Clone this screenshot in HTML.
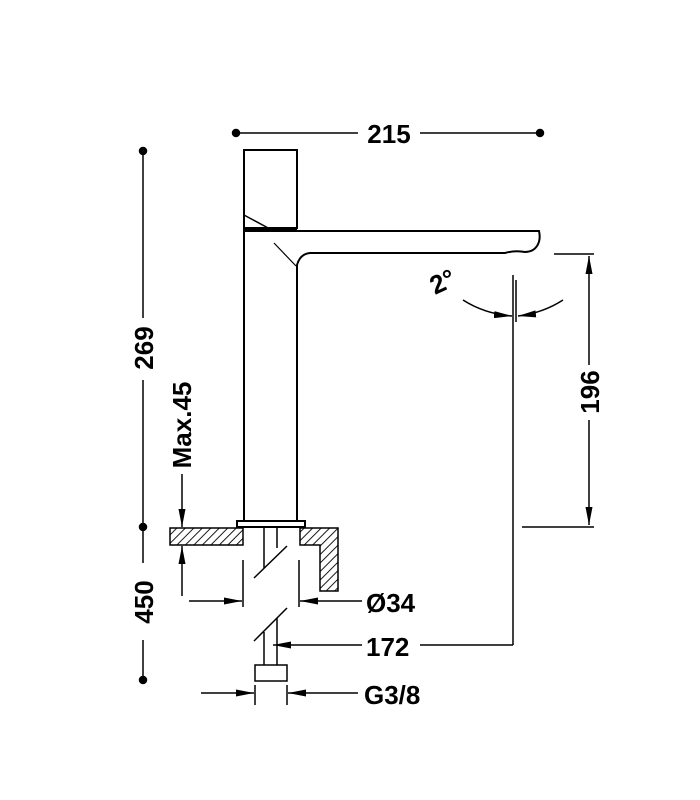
<!DOCTYPE html>
<html><head><style>body{margin:0;background:#fff}svg{display:block}</style></head><body>
<svg width="700" height="800" viewBox="0 0 700 800" xmlns="http://www.w3.org/2000/svg">
<defs>
<pattern id="h" width="6" height="6" patternUnits="userSpaceOnUse" patternTransform="rotate(45)"><rect width="6" height="6" fill="#fff"/><line x1="0" y1="0" x2="0" y2="6" stroke="#000" stroke-width="1.8"/></pattern>
<marker id="a" viewBox="0 0 10 6" refX="10" refY="3" markerWidth="18" markerHeight="7" markerUnits="userSpaceOnUse" preserveAspectRatio="none" orient="auto"><path d="M0,0L10,3L0,6z" fill="#000"/></marker>
</defs>
<g stroke="#000" fill="none" stroke-width="1.5" font-family="Liberation Sans, sans-serif">
<line x1="236" y1="133" x2="358" y2="133"/><line x1="420" y1="133" x2="540" y2="133"/>
<circle cx="236" cy="133" r="3.5" fill="#000"/><circle cx="540" cy="133" r="3.5" fill="#000"/>
<line x1="143" y1="151" x2="143" y2="318"/><line x1="143" y1="380" x2="143" y2="527"/>
<line x1="143" y1="527" x2="143" y2="563"/><line x1="143" y1="640" x2="143" y2="680"/>
<circle cx="143" cy="151" r="3.5" fill="#000"/><circle cx="143" cy="527" r="3.5" fill="#000"/><circle cx="143" cy="680" r="3.5" fill="#000"/>
<line x1="182" y1="474" x2="182" y2="527" marker-end="url(#a)"/>
<line x1="182" y1="596" x2="182" y2="546" marker-end="url(#a)"/>
<rect x="244" y="150" width="53" height="78" stroke-width="2" fill="#fff"/>
<path d="M244,215 L244,229 L297,229" stroke-width="2"/>
<path d="M244,215 L270,229" stroke-width="1.5"/>
<path d="M244,521 L244,231 L539,231 Q541,240 537,246 Q533,252 525,252 Q515,250 505,253 L310,253 Q300,254 297,265 L297,521" stroke-width="2" fill="#fff"/>
<path d="M274,243 L296,266" stroke-width="1.2"/>
<rect x="237" y="521" width="68" height="6" stroke-width="2" fill="#fff"/>
<rect x="170" y="528" width="73" height="17" fill="url(#h)" stroke-width="1.5"/>
<path d="M300,528 L338,528 L338,591 L320,591 L320,545 L300,545 Z" fill="url(#h)" stroke-width="1.5"/>
<line x1="264" y1="528" x2="264" y2="568"/><line x1="277" y1="528" x2="277" y2="548"/>
<line x1="254" y1="578" x2="287" y2="546"/>
<line x1="254" y1="641" x2="287" y2="608"/>
<line x1="264" y1="632" x2="264" y2="665"/><line x1="277" y1="618" x2="277" y2="665"/>
<rect x="255" y="665" width="32" height="16" stroke-width="1.5" fill="#fff"/>
<line x1="243" y1="560" x2="243" y2="607"/><line x1="299" y1="560" x2="299" y2="607"/>
<line x1="189" y1="601" x2="242" y2="601" marker-end="url(#a)"/>
<line x1="362" y1="601" x2="300" y2="601" marker-end="url(#a)"/>
<line x1="362" y1="645" x2="273" y2="645" marker-end="url(#a)"/>
<line x1="420" y1="645" x2="513" y2="645"/>
<line x1="513" y1="275" x2="513" y2="645"/>
<line x1="255" y1="685" x2="255" y2="705"/><line x1="287" y1="685" x2="287" y2="705"/>
<line x1="201" y1="693" x2="254" y2="693" marker-end="url(#a)"/>
<line x1="358" y1="693" x2="288" y2="693" marker-end="url(#a)"/>
<line x1="554" y1="254" x2="594" y2="254"/><line x1="522" y1="527" x2="594" y2="527"/>
<line x1="589" y1="365" x2="589" y2="256" marker-end="url(#a)"/>
<line x1="589" y1="420" x2="589" y2="525" marker-end="url(#a)"/>
<line x1="516" y1="280" x2="516" y2="322"/>
<path d="M463,300 Q485,314 512,316" marker-end="url(#a)"/>
<path d="M563,300 Q543,313 518,316" marker-end="url(#a)"/>
</g>
<g font-family="Liberation Sans, sans-serif" font-weight="bold" font-size="26" fill="#000">
<text x="389" y="143" text-anchor="middle">215</text>
<text transform="translate(153,348) rotate(-90)" text-anchor="middle">269</text>
<text transform="translate(191,425) rotate(-90)" text-anchor="middle">Max.45</text>
<text transform="translate(153,602) rotate(-90)" text-anchor="middle">450</text>
<text transform="translate(599,392) rotate(-90)" text-anchor="middle">196</text>
<text x="366" y="612">Ø34</text>
<text x="366" y="656">172</text>
<text x="364" y="704">G3/8</text>
<text transform="translate(435,295) rotate(-25)">2°</text>
</g>
</svg>
</body></html>
